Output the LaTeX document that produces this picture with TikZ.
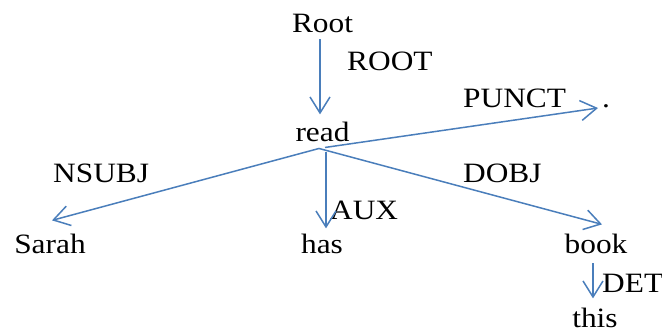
\documentclass[tikz,border=0pt]{standalone}
\usepackage{fontspec}
\setmainfont{Liberation Serif}[FakeStretch=1.12]
\usetikzlibrary{arrows.meta}
\definecolor{deplink}{HTML}{4A7EBB}
\tikzset{
  word/.style={inner sep=0pt, anchor=base, font=\fontsize{28}{30}\selectfont},
  rel/.style={inner sep=0pt, anchor=base west, font=\fontsize{28}{30}\selectfont},
  dep/.style={draw=deplink, line width=1.5pt, line join=round,
    -{Straight Barb[length=16pt,width=20pt,line width=1.5pt]}}
}
\begin{document}
\begin{tikzpicture}[x=1pt,y=-1pt]
\useasboundingbox (0,0) rectangle (662,329);
% words of the sentence
\node[word] (root)  at (322.5,33)  {Root};
\node[word] (read)  at (322.5,142) {read};
\node[rel]  (dot)   at (602,107)   {.};
\node[word] (sarah) at (50,253)    {Sarah};
\node[word] (has)   at (322,253)   {has};
\node[word] (book)  at (596,253)   {book};
\node[word] (this)  at (595,327)   {this};
% relation labels
\node[rel] (lroot)  at (347,71)  {ROOT};
\node[rel] (lpunct) at (463,107) {PUNCT};
\node[rel] (lnsubj) at (53,182)  {NSUBJ};
\node[rel] (laux)   at (330,219) {AUX};
\node[rel] (ldobj)  at (463,182) {DOBJ};
\node[rel] (ldet)   at (602,292) {DET};
% dependency arcs
\draw[dep] ([xshift=-2.5pt,yshift=-6pt]root.south) -- ([xshift=-2.5pt,yshift=8pt]read.north);
\draw[dep] ([xshift=2.5pt,yshift=-5pt]read.south) -- ([xshift=-4pt,yshift=-1pt]dot.base west);
\draw[dep] ([xshift=-3.5pt,yshift=-6pt]read.south) -- ([xshift=2pt,yshift=13pt]sarah.north);
\draw[dep] ([xshift=3.5pt,yshift=-10pt]read.south) -- ([xshift=4pt,yshift=5pt]has.north);
\draw[dep] ([xshift=-3.5pt,yshift=-6pt]read.south) -- ([xshift=6pt,yshift=9pt]book.north);
\draw[dep] ([xshift=-3pt,yshift=-10pt]book.south) -- ([xshift=-2pt,yshift=9pt]this.north);
\end{tikzpicture}
\end{document}
